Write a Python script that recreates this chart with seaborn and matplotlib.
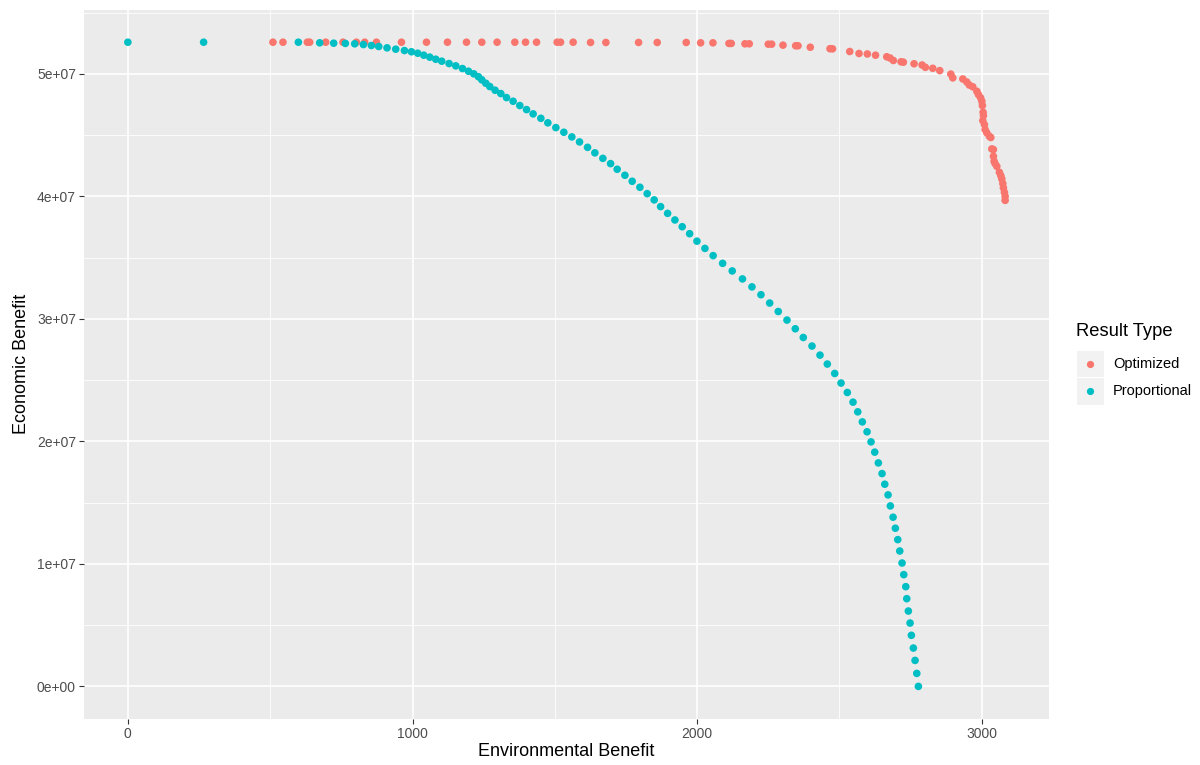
import matplotlib
matplotlib.use("Agg")
import matplotlib.pyplot as plt
from matplotlib.lines import Line2D
from matplotlib.patches import Rectangle
from matplotlib.ticker import FuncFormatter, MultipleLocator
import numpy as np
import pandas as pd
import seaborn as sns

# ---------------- data ----------------
series_names = ["Optimized", "Proportional"]
colors = ["#F8766D", "#00BFC4"]

opt_env = [509.7, 544.9, 630.6, 638.7, 695.0, 755.8, 802.9, 832.1, 873.2, 961.1,
           1049.0, 1122.8, 1189.6, 1243.4, 1297.1, 1359.4, 1397.0, 1435.7, 1508.1, 1520.0,
           1564.3, 1625.5, 1679.3, 1794.2, 1859.6, 1961.5, 2012.2, 2055.4, 2111.6, 2119.7,
           2167.9, 2183.0, 2249.8, 2261.7, 2301.5, 2346.1, 2354.2, 2397.4, 2466.7, 2475.5,
           2536.0, 2568.6, 2597.8, 2626.6, 2666.0, 2677.6, 2689.2, 2716.3, 2724.4, 2761.9,
           2790.1, 2801.7, 2827.7, 2852.3, 2891.0, 2898.0, 2933.2, 2947.2, 2956.4, 2968.3,
           2982.4, 2988.0, 2995.7, 3000.0, 3002.1, 3004.5, 3005.6, 3003.5, 3009.1, 3011.6,
           3017.6, 3026.7, 3031.6, 3035.1, 3040.7, 3040.7, 3043.2, 3046.7, 3052.7, 3061.8,
           3066.7, 3070.3, 3073.8, 3075.9, 3079.4, 3081.9, 3081.9]
opt_eco_m = [52.58, 52.58, 52.58, 52.58, 52.58, 52.58, 52.58, 52.58, 52.58, 52.58,
             52.58, 52.58, 52.58, 52.58, 52.58, 52.58, 52.58, 52.58, 52.58, 52.58,
             52.58, 52.56, 52.56, 52.56, 52.56, 52.56, 52.53, 52.53, 52.48, 52.48,
             52.45, 52.45, 52.42, 52.42, 52.34, 52.29, 52.29, 52.17, 52.05, 52.04,
             51.82, 51.66, 51.62, 51.52, 51.39, 51.29, 51.09, 50.98, 50.95, 50.82,
             50.72, 50.53, 50.45, 50.26, 49.98, 49.67, 49.58, 49.33, 49.08, 48.94,
             48.58, 48.31, 48.04, 47.76, 47.41, 46.86, 46.59, 46.18, 45.86, 45.45,
             45.18, 44.90, 44.80, 43.87, 43.82, 43.27, 42.86, 42.67, 42.45, 41.96,
             41.69, 41.42, 41.04, 40.69, 40.33, 40.00, 39.67]

prop_env = [0.0, 266.1, 599.0, 673.9, 723.1, 764.2, 796.9, 827.5, 855.6, 881.3,
            910.5, 941.0, 971.6, 996.2, 1018.4, 1039.5, 1060.6, 1081.7, 1102.7, 1128.4,
            1152.0, 1175.5, 1196.6, 1215.2, 1231.8, 1243.4, 1257.4, 1271.5, 1290.1, 1310.2,
            1330.2, 1353.4, 1376.9, 1400.5, 1423.7, 1450.8, 1475.4, 1503.5, 1531.6, 1559.7,
            1586.8, 1614.9, 1640.6, 1668.7, 1695.8, 1719.0, 1746.1, 1771.7, 1798.8, 1824.4,
            1849.0, 1871.5, 1896.2, 1921.8, 1947.5, 1973.5, 1999.2, 2027.3, 2056.1, 2089.5,
            2123.2, 2159.1, 2192.5, 2224.1, 2254.7, 2284.9, 2315.5, 2344.7, 2372.8, 2403.4,
            2431.5, 2457.2, 2483.2, 2505.4, 2527.5, 2547.5, 2564.1, 2580.2, 2596.8, 2610.8,
            2623.8, 2636.5, 2649.5, 2659.0, 2670.6, 2678.7, 2688.2, 2696.2, 2704.7, 2711.7,
            2719.8, 2725.8, 2732.8, 2736.3, 2741.9, 2747.9, 2752.5, 2759.5, 2765.5, 2771.5,
            2777.1]
prop_eco_m = [52.58, 52.58, 52.58, 52.53, 52.50, 52.48, 52.45, 52.39, 52.31, 52.23,
              52.12, 52.01, 51.90, 51.80, 51.68, 51.52, 51.36, 51.19, 51.03, 50.84,
              50.65, 50.43, 50.21, 50.00, 49.76, 49.51, 49.23, 48.96, 48.66, 48.39,
              48.06, 47.76, 47.41, 47.08, 46.73, 46.37, 46.00, 45.61, 45.23, 44.85,
              44.44, 44.00, 43.55, 43.10, 42.67, 42.21, 41.72, 41.23, 40.74, 40.22,
              39.71, 39.16, 38.61, 38.07, 37.52, 36.95, 36.34, 35.75, 35.16, 34.53,
              33.91, 33.26, 32.61, 31.97, 31.29, 30.60, 29.90, 29.19, 28.48, 27.78,
              27.04, 26.31, 25.54, 24.76, 23.99, 23.20, 22.41, 21.59, 20.78, 19.96,
              19.12, 18.24, 17.37, 16.50, 15.63, 14.73, 13.81, 12.91, 11.98, 11.05,
              10.07, 9.12, 8.14, 7.16, 6.15, 5.17, 4.17, 3.13, 2.12, 1.06,
              0.0]

x_ticks = [0, 1000, 2000, 3000]
y_ticks = [0, 1e7, 2e7, 3e7, 4e7, 5e7]
x_label = "Environmental Benefit"
y_label = "Economic Benefit"
legend_title = "Result Type"

df = pd.concat([
    pd.DataFrame({"env": opt_env, "eco": np.array(opt_eco_m) * 1e6, "type": series_names[0]}),
    pd.DataFrame({"env": prop_env, "eco": np.array(prop_eco_m) * 1e6, "type": series_names[1]}),
], ignore_index=True)

# ---------------- style ----------------
plt.rcParams["font.family"] = ["Liberation Sans", "DejaVu Sans"]
W, H, DPI = 1200, 765, 100
fig = plt.figure(figsize=(W / DPI, H / DPI), dpi=DPI)
fig.patch.set_facecolor("white")
ax = fig.add_axes([84 / W, 1 - 718.6 / H, (1049 - 84) / W, (718.6 - 10) / H])
ax.set_facecolor("#EBEBEB")

sns.scatterplot(data=df, x="env", y="eco", hue="type", hue_order=series_names,
                palette=colors, s=30, linewidth=0, edgecolor="none", ax=ax,
                legend=False, zorder=3)

# limits with ggplot-style 5% expansion
xmin, xmax = df["env"].min(), df["env"].max()
ymin, ymax = df["eco"].min(), df["eco"].max()
xr, yr = xmax - xmin, ymax - ymin
ax.set_xlim(xmin - 0.05 * xr, xmax + 0.05 * xr)
ax.set_ylim(ymin - 0.05 * yr, ymax + 0.05 * yr)

ax.set_xticks(x_ticks)
ax.set_yticks(y_ticks)
ax.xaxis.set_minor_locator(MultipleLocator(500))
ax.yaxis.set_minor_locator(MultipleLocator(5e6))
ax.yaxis.set_major_formatter(FuncFormatter(lambda v, p: "{:.0e}".format(v)))
ax.xaxis.set_major_formatter(FuncFormatter(lambda v, p: "{:d}".format(int(round(v)))))

ax.grid(which="major", color="white", linewidth=1.2, zorder=0)
ax.grid(which="minor", color="white", linewidth=0.6, zorder=0)
ax.set_axisbelow(True)
for s in ax.spines.values():
    s.set_visible(False)
ax.tick_params(which="major", length=3.3, width=0.8, color="#333333",
               labelcolor="#4D4D4D", labelsize=10, pad=2.5)
ax.tick_params(which="minor", length=0)

ax.set_xlabel(x_label, fontsize=13, color="black", labelpad=2)
ax.set_ylabel(y_label, fontsize=13, color="black", labelpad=5)

# ---------------- legend (ggplot-like, manual in figure coords) ----------------
fig.text(1076 / W, 1 - 332 / H, legend_title, fontsize=13.2, color="black",
         ha="left", va="center")
key_tops = [350.5, 378.0]
for name, col, top in zip(series_names, colors, key_tops):
    fig.add_artist(Rectangle((1077 / W, 1 - (top + 26.5) / H), 26.5 / W, 26.5 / H,
                             transform=fig.transFigure, facecolor="#F2F2F2",
                             edgecolor="none"))
    cy = 1 - (top + 13.3) / H
    fig.add_artist(Line2D([1090.3 / W], [cy], marker="o", markersize=5.2,
                          markerfacecolor=col, markeredgewidth=0, linestyle="none",
                          transform=fig.transFigure))
    fig.text(1113 / W, cy, name, fontsize=10.5, color="black", ha="left", va="center")

fig.savefig("out.png", dpi=DPI)
